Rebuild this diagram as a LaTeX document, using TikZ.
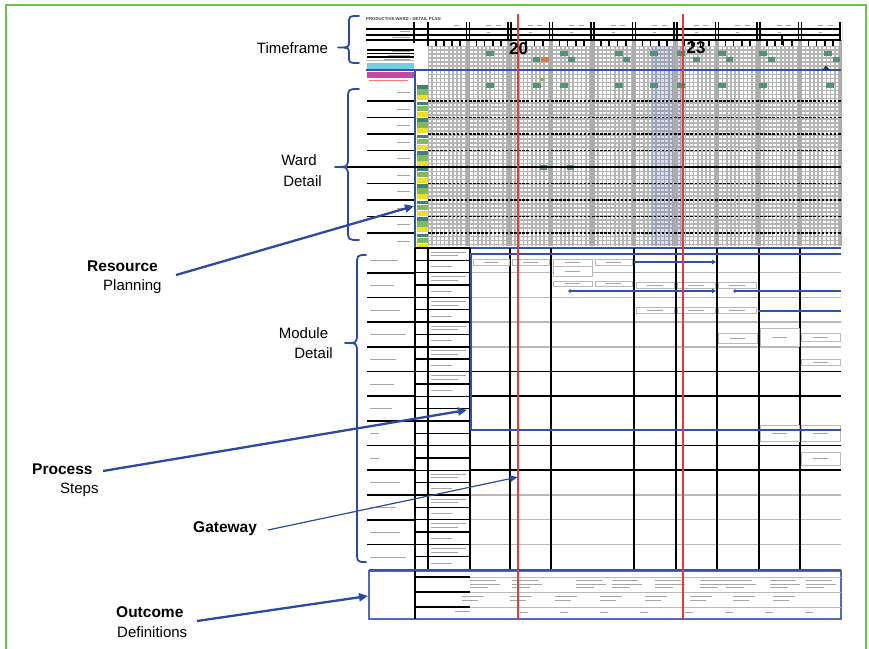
\documentclass[tikz,border=0pt]{standalone}
\usepackage{fontspec}
\setmainfont{Liberation Sans}
\usetikzlibrary{arrows.meta}

\definecolor{framegreen}{RGB}{108,194,74}
\definecolor{callout}{RGB}{44,74,160}
\definecolor{planred}{RGB}{234,56,56}
\definecolor{planblue}{RGB}{50,82,168}
\definecolor{cellteal}{RGB}{64,130,118}
\definecolor{cellgreen}{RGB}{128,186,92}
\definecolor{cellyellow}{RGB}{236,224,36}
\definecolor{markgreen}{RGB}{78,150,112}
\definecolor{markorange}{RGB}{214,126,72}
\definecolor{barcyan}{RGB}{118,204,228}
\definecolor{barmagenta}{RGB}{196,72,162}

% a short grey stroke standing for unreadably small print
\newcommand\scribline[3]{\draw[scrib] ({#1},{#3}) -- ({#2},{#3});}

\tikzset{
  lab/.style={font=\fontsize{15}{17}\selectfont, inner sep=0pt},
  labbold/.style={font=\fontsize{15.5}{17}\selectfont\bfseries, inner sep=0pt},
  callarrow/.style={draw=callout, line width=2.3pt, -{Triangle[length=9pt,width=8pt]}},
  thinarrow/.style={draw=callout, line width=1.2pt, -{Triangle[length=8pt,width=6pt]}},
  bracestroke/.style={draw=callout, line width=1.8pt, line cap=round, line join=round},
  scrib/.style={draw=gray!70, line width=0.7pt},
  heavy/.style={draw=black, line width=1.7pt},
  softrule/.style={draw=gray!55, line width=1.5pt},
  cellrule/.style={draw=gray!58, line width=1.6pt},
  pbox/.style={draw=gray!55, line width=0.8pt, fill=white},
  flow/.style={draw=planblue, line width=2pt},
  flowtip/.style={flow, -{Triangle[length=4pt,width=4.5pt]}},
  bigday/.style={font=\fontsize{17}{17}\selectfont\bfseries, inner sep=0pt},
}

\begin{document}
\begin{tikzpicture}[x=1pt,y=-1pt]
\useasboundingbox (0,0) rectangle (869,648);
\fill[white] (0,0) rectangle (869,648);

% ---------- outer frame ----------
\draw[framegreen, line width=2.2pt] (6,652) -- (6,5) -- (866,5) -- (866,652);

\begin{scope}
\clip (360,10) rectangle (842,250);
% ---------- ward plan: fine cell grid ----------
\begin{scope}
  \clip (428,46) rectangle (841,246);
  \foreach \i in {0,...,100} {\draw[cellrule] ({428+4.15*\i},46) -- ++(0,200);}
  \foreach \j in {0,...,49} {\draw[cellrule] (428,{46+4.05*\j}) -- (841,{46+4.05*\j});}
\end{scope}
\fill[planblue, opacity=0.18] (652,46) rectangle (681,246);

% day separators, header bars and hour ticks
\foreach \k in {0,...,9} {
  \pgfmathsetmacro\dx{468+41.5*\k}
  \fill[gray!65] (\dx-2.2,40) rectangle (\dx+2.2,246);
  \fill[black] (\dx-2.4,22) rectangle (\dx-0.9,40);
  \fill[black] (\dx+0.9,22) rectangle (\dx+2.4,40);
  \scribline{\dx-14}{\dx-9}{25}
  \scribline{\dx+18}{\dx+23}{25}
  \scribline{\dx+19}{\dx+22}{32}
}
\foreach \k in {0,...,8} {\foreach \m in {1,...,4} {
  \fill[black] ({468+41.5*\k+8.3*\m-0.8},40) rectangle ++(1.6,6);}}
\foreach \m in {1,...,4} {\fill[black] ({428+8*\m-0.8},40) rectangle ++(1.6,6);}
\fill[black] (413.2,22) rectangle (414.8,43);
\fill[black] (427.2,22) rectangle (428.8,46);
\fill[black] (781.2,34) rectangle (782.8,45);
\foreach \y in {29,35,40} {\draw[line width=1.3pt] (366,\y) -- (841,\y);}

\node[anchor=west, inner sep=0pt, font=\fontsize{4.3}{5}\selectfont\bfseries, text=black!75]
  (title) at (366,19) {PRODUCTIVE WARD : DETAIL PLAN};
\scribline{400}{410}{31.5}
\scribline{392}{410}{37.5}

% left header block with coloured bars
\foreach \y in {50,53.5,57} {\draw[line width=1.5pt] (367,\y) -- (414,\y);}
\draw[gray!60, line width=0.8pt] (367,60.5) -- (414,60.5);
\fill[barcyan] (367,62.5) rectangle (414,69);
\fill[barmagenta] (367,72) rectangle (414,77.5);
\scribline{392}{410}{51.8}
\scribline{388}{410}{55.3}
\scribline{384}{410}{59}
\draw[red!55, line width=0.7pt] (369,80.5) -- (408,80.5);

% green and orange planning marks
\foreach \x in {486,560,615,650,677,718,759,824} {\fill[markgreen] (\x,51) rectangle ++(8,4.5);}
\foreach \x in {533,568,623,693,726,768,833} {\fill[markgreen] (\x,57) rectangle ++(7,4.5);}
\fill[markorange] (541,57) rectangle ++(8,4.5);
\fill[cellgreen] (540,78) rectangle ++(5,3);
\foreach \x in {486,533,560,615,650,677,718,759,826} {\fill[markgreen] (\x,83) rectangle ++(8,4.5);}
\fill[markgreen] (540,165) rectangle ++(7,4.5);
\fill[markgreen] (567,165) rectangle ++(7,4.5);

% ward rows: coloured status cells and row rules
\foreach \k in {0,...,9} {
  \pgfmathsetmacro\r{84.5+16.5*\k}
  \fill[cellteal] (416.5,\r+0.6) rectangle (427.5,\r+4);
  \fill[cellgreen] (416.5,\r+4.6) rectangle (427.5,\r+10);
  \fill[cellyellow] (416.5,\r+10.6) rectangle (427.5,\r+15.6);
  \scribline{397}{410}{\r+8}
}
\foreach \k in {1,...,9} {
  \pgfmathsetmacro\yy{84.5+16.5*\k}
  \draw[line width=1.5pt] (367,\yy) -- (414,\yy);
  \draw[line width=1.3pt, dash pattern=on 2.5pt off 1.6pt] (428,\yy) -- (841,\yy);
}

\draw[planblue, line width=2pt] (366,70.3) -- (841,70.3);
\fill[planblue!60!black] (822,70.3) -- (826,65.5) -- (830,70.3) -- cycle;
\draw[planblue, line width=2pt] (415,70.3) -- (415,248) -- (841,248);
\end{scope}
\draw[line width=1.5pt] (347,167) -- (841,167);

% ---------- module detail ----------
% timeline rules
\foreach \i in {1,2,3,4,10,11,12} {\draw[softrule] (470,{248+24.7*\i}) -- (841,{248+24.7*\i});}
\foreach \i in {5,6,8,9} {\draw[heavy] (470,{248+24.7*\i}) -- (841,{248+24.7*\i});}
\foreach \x in {510,551,634,676,717,759,800} {\draw[heavy] (\x,248) -- (\x,569);}

% label column, small column and step-text column
\foreach \i in {1,...,12} {\draw[heavy] (367,{248+24.7*\i}) -- (415,{248+24.7*\i});}
\foreach \i in {0,...,12} {
  \draw[line width=1.4pt] (415,{248+24.7*\i}) -- (470,{248+24.7*\i});
  \draw[line width=1.4pt] (415,{248+24.7*\i+12.35}) -- (470,{248+24.7*\i+12.35});
}
\draw[line width=1.4pt] (415,248) -- (415,569) (428,248) -- (428,569) (470,248) -- (470,569);
\foreach \i/\w in {0/28,1/24,2/30,3/36,4/26,5/24,6/22,7/9,8/9,9/30,10/26,11/30,12/36} {
  \scribline{370}{370+\w}{248+24.7*\i+12.5}
}
\foreach \i in {0,1,2,3,4,5,9,10,11,12} {
  \scribline{431}{466}{248+24.7*\i+4}
  \scribline{431}{458}{248+24.7*\i+7.5}
  \scribline{431}{452}{248+24.7*\i+18.5}
}

% process step boxes
\foreach \a/\b/\c/\d in {473/259/509/265, 512/259/549/265, 553/259/592/266, 553/266/592/276,
    595/259/632/265, 553/281/592/286.5, 595/281/632/286.5, 636/282/674/288, 677/282/715/288,
    718/282/756/288, 636/307/674/313, 677/307/715/313, 718/307/756/313, 718/333/757/343,
    760/328/799/346, 801/333/840/341, 801/359/840/365, 760/425/799/441, 801/425/840/441,
    801/452/840/465} {
  \draw[pbox] (\a,\b) rectangle (\c,\d);
  \scribline{\a+0.3*(\c-\a)}{\c-0.3*(\c-\a)}{(\b+\d)/2}
}

% step flows
\draw[flowtip] (634,262) -- (716,262);
\fill[planblue] (570,291) circle (1.8);
\draw[flowtip] (570,291) -- (716,291);
\fill[planblue] (735,291) circle (1.8);
\draw[flow] (735,291) -- (841,291);
\draw[flow, line width=2.6pt] (758,311) -- (841,311);

% process steps frame
\draw[planblue, line width=2.6pt] (841,254) -- (471,254) -- (471,430) -- (841,430);

% ---------- outcome definitions ----------
\draw[planblue!85, line width=1.4pt] (369,571) rectangle (841,619);
\draw[planblue, line width=2.6pt] (369,570) -- (841,570);
\draw[heavy] (415,571) -- (415,619);
\foreach \y in {577,592,607} {
  \draw[heavy] (415,\y) -- (470,\y);
  \draw[gray!55, line width=1pt] (470,\y) -- (841,\y);
}
\foreach \x in {470,512,576,612,655,700,726,770,806} {
  \scribline{\x}{\x+26}{580.5}
  \scribline{\x}{\x+30}{584}
  \scribline{\x}{\x+18}{587.5}
}
\foreach \x in {462,510,555,600,645,690,733,773} {
  \scribline{\x}{\x+22}{596.5}
  \scribline{\x}{\x+16}{600}
}
\scribline{455}{470}{611.5}
\foreach \x in {520,560,600,640,685,725,765,805} {
  \scribline{\x}{\x+8}{612}
}

% today markers
\draw[planred, line width=1.6pt] (518,14) -- (518,620);
\draw[planred, line width=1.6pt] (683,14) -- (683,620);
\node[bigday] (d20) at (518.5,48.5) {20};
\node[bigday] (d23) at (696,48) {23};

% ---------- braces ----------
\draw[bracestroke] (359,16) .. controls (349,16) .. (349,23) -- (349,41)
  .. controls (349,47.5) .. (338,47.5) .. controls (349,47.5) .. (349,54) -- (349,57)
  .. controls (349,63) .. (359,63);
\draw[bracestroke] (359,89) .. controls (348,89) .. (348,99) -- (348,157)
  .. controls (348,167) .. (335,167) .. controls (348,167) .. (348,177) -- (348,230)
  .. controls (348,240) .. (359,240);
\draw[bracestroke] (366,255) .. controls (357,255) .. (357,266) -- (357,333)
  .. controls (357,343) .. (345,343) .. controls (357,343) .. (357,353) -- (357,550)
  .. controls (357,562) .. (366,562);

% ---------- callout labels ----------
\node[lab] (timeframe) at (292.5,48) {Timeframe};
\node[lab] (ward) at (299,160) {Ward};
\node[lab] (warddetail) at (302.5,181) {Detail};
\node[lab] (module) at (303.5,333) {Module};
\node[lab] (moduledetail) at (313.5,353) {Detail};
\node[labbold, anchor=west] (resource) at (87,266) {Resource};
\node[lab, anchor=west] (planning) at (103,287) {Planning};
\node[labbold, anchor=west] (process) at (32,469) {Process};
\node[lab, anchor=west] (steps) at (60,490) {Steps};
\node[labbold, anchor=west] (gateway) at (193,529) {Gateway};
\node[labbold, anchor=west] (outcome) at (116,612) {Outcome};
\node[lab, anchor=west] (definitions) at (117,632) {Definitions};

% ---------- callout arrows ----------
\coordinate (resfrom) at (176,275);
\coordinate (resto) at (414,206);
\coordinate (procfrom) at (103,471);
\coordinate (procto) at (467,410);
\coordinate (gatefrom) at (268,530);
\coordinate (gateto) at (518,477);
\coordinate (outfrom) at (197,621);
\coordinate (outto) at (368,596);
\draw[callarrow] (resfrom) -- (resto);
\draw[callarrow] (procfrom) -- (procto);
\draw[thinarrow] (gatefrom) -- (gateto);
\draw[callarrow] (outfrom) -- (outto);
\end{tikzpicture}
\end{document}
